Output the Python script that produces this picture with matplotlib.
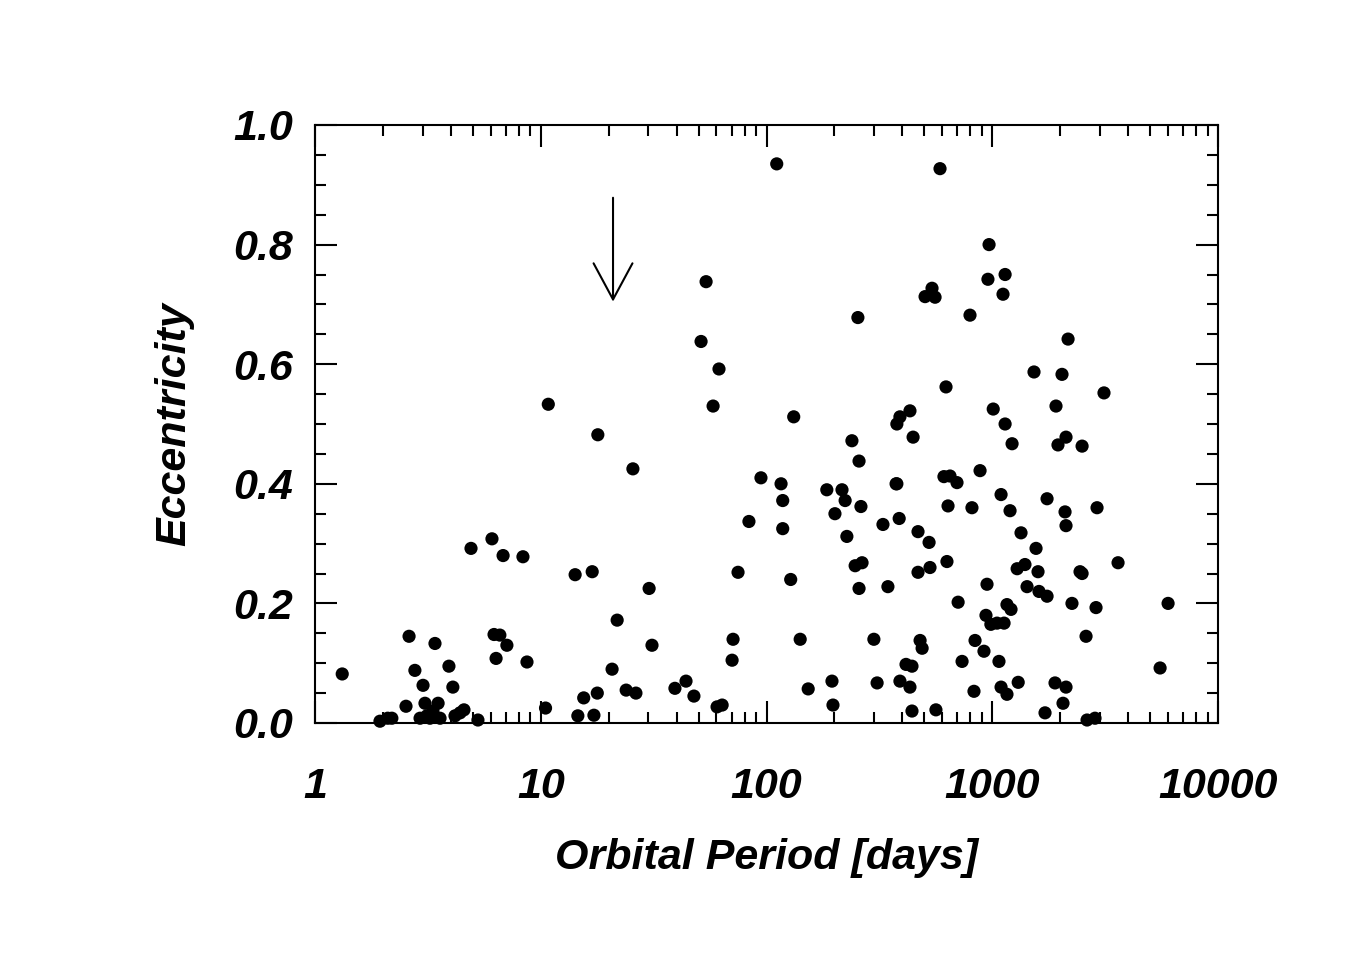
import matplotlib
matplotlib.use("Agg")
import matplotlib.pyplot as plt
import matplotlib.transforms as mtransforms
from matplotlib.ticker import MultipleLocator, NullFormatter

period = [1.32,1.94,2.10,2.19,2.53,2.61,2.77,2.92,3.01,3.07,3.13,3.23,3.33,3.40,3.51,3.58,3.92,4.08,4.17,4.39,4.57,4.91,5.27,
          6.08,6.21,6.34,6.59,6.81,7.08,8.34,8.69,10.5,10.8,14.2,14.6,15.5,16.9,17.2,17.8,17.9,20.7,21.8,23.9,25.6,26.4,30.2,31.1,
          39.3,44.0,47.7,51.3,54.0,58.0,60.4,61.6,63.6,70.4,71.1,74.8,83.6,94.5,111,116,118,118,128,132,141,153,
          185,195,197,201,216,223,227,239,247,257,257,265,254,262,299,309,328,345,
          375,378,390,432,446,378,387,415,441,390,432,441,469,469,479,489,504,525,530,541,558,563,587,
          611,624,630,637,650,698,706,735,797,813,839,830,883,919,938,948,957,968,986,1010,1050,1071,1094,1094,
          1116,1128,1140,1140,1162,1162,1199,1211,1224,1289,1303,1341,1396,1426,1531,1563,1595,1611,1749,1749,
          1713,1916,2037,1955,2122,2167,2122,2101,1897,2122,2058,2255,2448,2500,2500,2603,2630,2882,2912,2852,3126,3608,5540,6010]
ecc = [.082,.003,.008,.008,.028,.145,.088,.008,.063,.033,.012,.008,.020,.133,.033,.008,.095,.060,.012,.017,.022,.292,.005,
       .308,.148,.108,.147,.280,.130,.278,.102,.025,.533,.248,.012,.042,.253,.013,.050,.482,.090,.172,.055,.425,.050,.225,.130,
       .058,.070,.045,.638,.738,.530,.027,.592,.030,.105,.140,.252,.337,.410,.935,.400,.372,.325,.240,.512,.140,.057,
       .390,.070,.030,.350,.390,.372,.312,.472,.263,.438,.225,.268,.678,.362,.140,.067,.332,.228,
       .400,.500,.512,.522,.478,.400,.342,.098,.095,.070,.060,.020,.252,.320,.138,.125,.713,.302,.260,.727,.712,.022,.927,
       .412,.562,.270,.363,.413,.402,.202,.103,.682,.360,.138,.053,.422,.120,.180,.232,.742,.800,.165,.525,.167,.103,.382,.060,
       .717,.167,.500,.750,.048,.198,.355,.190,.467,.258,.068,.318,.265,.228,.587,.292,.253,.220,.375,.212,
       .017,.530,.583,.465,.478,.642,.330,.353,.067,.060,.033,.200,.253,.250,.463,.145,.005,.193,.360,.008,.552,.268,.092,.200]

arrow_period = 20.9
arrow_top, arrow_tip = 0.883, 0.70

plt.rcParams['font.family'] = ['Liberation Sans', 'DejaVu Sans']
fig = plt.figure(figsize=(13.5, 9.75), dpi=100)
ax = fig.add_axes([315/1350, 252/975, 903/1350, 598/975])
ax.scatter(period, ecc, s=90, c='black', edgecolors='none', clip_on=False, zorder=3)
ax.annotate('', xy=(arrow_period, arrow_tip), xytext=(arrow_period, arrow_top),
            arrowprops=dict(arrowstyle='->,head_length=2.6,head_width=1.4', color='black', lw=1.5))
ax.set_xscale('log')
ax.set_xlim(1, 10000)
ax.set_ylim(0, 1.0)
ax.set_xticks([1, 10, 100, 1000, 10000])
ax.set_xticklabels(['1', '10', '100', '1000', '10000'])
ax.xaxis.set_minor_formatter(NullFormatter())
ax.set_yticks([0, 0.2, 0.4, 0.6, 0.8, 1.0])
ax.set_yticklabels(['0.0', '0.2', '0.4', '0.6', '0.8', '1.0'])
ax.yaxis.set_minor_locator(MultipleLocator(0.05))
labs = ax.get_yticklabels()
labs[0].set_transform(labs[0].get_transform() + mtransforms.ScaledTranslation(0, 12/100, fig.dpi_scale_trans))
labs[-1].set_transform(labs[-1].get_transform() + mtransforms.ScaledTranslation(0, -28/100, fig.dpi_scale_trans))
for lab in ax.get_xticklabels() + ax.get_yticklabels():
    lab.set_fontweight('bold'); lab.set_fontstyle('italic'); lab.set_fontsize(31)
ax.tick_params(which='both', direction='in', top=True, right=True, width=1.5)
ax.tick_params(which='major', length=16)
ax.tick_params(which='minor', length=8)
ax.tick_params(axis='x', which='major', pad=32)
ax.tick_params(axis='y', which='major', pad=16)
for sp in ax.spines.values():
    sp.set_linewidth(1.5)
ax.set_xlabel('Orbital Period [days]', fontsize=31, fontweight='bold', fontstyle='italic', labelpad=22)
ax.set_ylabel('Eccentricity', fontsize=31, fontweight='bold', fontstyle='italic', labelpad=28)
fig.savefig('out.png', dpi=100)
